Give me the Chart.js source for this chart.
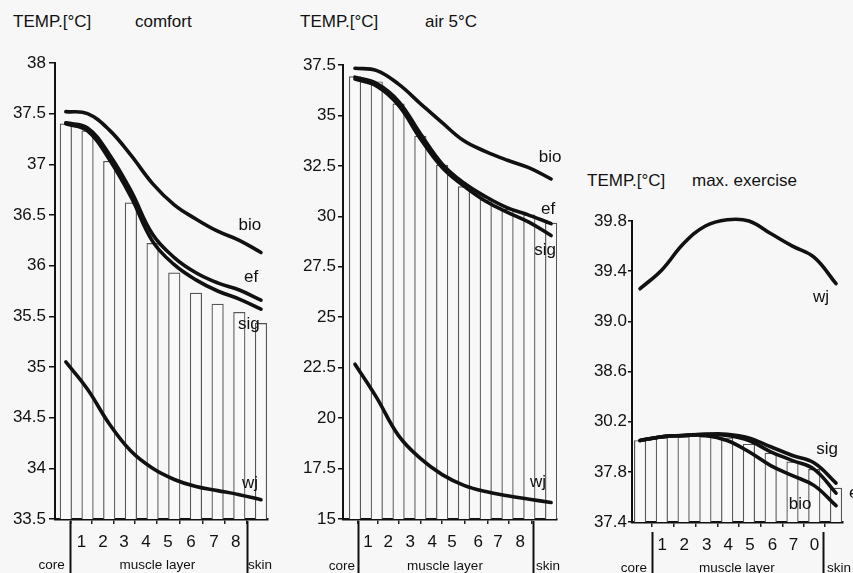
<!DOCTYPE html>
<html><head><meta charset="utf-8">
<script src="https://cdn.jsdelivr.net/npm/chart.js@4/dist/chart.umd.min.js"></script>
<style>
html,body{margin:0;padding:0;background:#f7f7f7;width:853px;height:573px;overflow:hidden;font-family:'Liberation Sans',Arial,sans-serif;color:#111}
canvas{position:absolute}
.t{position:absolute;font-size:17px;line-height:20px;white-space:nowrap;color:#111}
</style></head><body>
<div class="t" style="left:13px;top:12px">TEMP.[°C]</div>
<div class="t" style="left:135px;top:12px">comfort</div>
<div class="t" style="left:300px;top:12px">TEMP.[°C]</div>
<div class="t" style="left:425px;top:12px">air 5°C</div>
<div class="t" style="left:587px;top:171px">TEMP.[°C]</div>
<div class="t" style="left:692px;top:171px">max. exercise</div>
<canvas id="c1" width="290" height="533" style="left:0;top:40px"></canvas>
<canvas id="c2" width="285" height="533" style="left:290px;top:40px"></canvas>
<canvas id="c3" width="278" height="413" style="left:575px;top:160px"></canvas>
<script>
// compartments: core, muscle layers 1-8, skin
const compartments = ['core','m1','m2','m3','m4','m5','m6','m7','m8','skin'];

// comfort
const comfortBars = [37.40, 37.33, 37.03, 36.62, 36.22, 35.93, 35.73, 35.62, 35.54, 35.43];
const comfortBio  = [37.52, 37.50, 37.34, 37.09, 36.81, 36.60, 36.46, 36.34, 36.25, 36.13];
const comfortEf   = [37.41, 37.36, 37.10, 36.74, 36.31, 36.08, 35.93, 35.83, 35.76, 35.66];
const comfortSig  = [37.40, 37.33, 37.05, 36.68, 36.24, 36.01, 35.86, 35.75, 35.67, 35.57];
const comfortWj   = [35.05, 34.78, 34.44, 34.17, 34.00, 33.89, 33.82, 33.78, 33.74, 33.69];

// air 5°C
const air5Bars = [36.92, 36.67, 35.57, 33.98, 32.54, 31.47, 30.81, 30.35, 30.07, 29.66];
const air5Bio  = [37.34, 37.22, 36.55, 35.59, 34.64, 33.74, 33.21, 32.78, 32.40, 31.85];
const air5Ef   = [36.90, 36.58, 35.70, 34.10, 32.60, 31.65, 30.97, 30.42, 30.05, 29.64];
const air5Sig  = [36.80, 36.45, 35.50, 33.85, 32.42, 31.50, 30.75, 30.20, 29.70, 29.05];
const air5Wj   = [22.67, 21.00, 19.13, 18.00, 17.20, 16.67, 16.36, 16.15, 15.98, 15.82];

// max. exercise
const exBars = [38.05, 38.07, 38.08, 38.08, 38.07, 38.02, 37.95, 37.88, 37.82, 37.67];
const exWj   = [39.26, 39.41, 39.62, 39.76, 39.81, 39.80, 39.70, 39.60, 39.51, 39.30];
const exSig  = [38.05, 38.08, 38.09, 38.10, 38.10, 38.07, 38.00, 37.93, 37.87, 37.71];
const exEf   = [38.05, 38.08, 38.09, 38.10, 38.09, 38.05, 37.96, 37.89, 37.82, 37.63];
const exBio  = [38.05, 38.08, 38.09, 38.09, 38.05, 37.96, 37.85, 37.77, 37.69, 37.53];

// tick labels
const comfortYTicks = [33.5, 34, 34.5, 35, 35.5, 36, 36.5, 37, 37.5, 38];
const comfortYLabels = ['33.5','34','34.5','35','35.5','36','36.5','37','37.5','38'];
const air5YTicks = [15, 17.5, 20, 22.5, 25, 27.5, 30, 32.5, 35, 37.5];
const air5YLabels = ['15','17.5','20','22.5','25','27.5','30','32.5','35','37.5'];
const exYTicks = [37.4, 37.8, 38.2, 38.6, 39.0, 39.4, 39.8];
const exYLabels = ['37.4','37.8','30.2','38.6','39.0','39.4','39.8'];
const muscleLabels = ['1','2','3','4','5','6','7','8'];
const exMuscleLabels = ['1','2','3','4','5','6','7','0'];
const regionLabels = ['core','muscle layer','skin'];

const FONT = "'Liberation Sans', Arial, sans-serif";
const xs = compartments.map((c,i)=>i);
const pts = arr => arr.map((v,i)=>({x: xs[i], y: v}));

function makePanel(id, g) {
  const lineDs = (arr) => ({type:'line', data: pts(arr), borderColor:'#111', borderWidth:3.6,
    pointRadius:0, tension:0.4, fill:false, order:1, clip:8, borderCapStyle:'round', borderJoinStyle:'round'});
  const datasets = [{type:'bar', data: pts(g.bars), backgroundColor:'#f9f9f9', borderColor:'#555',
    borderWidth:1.2, barThickness:11.5, order:2}].concat(g.lines.map(lineDs));
  const annot = {
    id:'annot_'+id,
    afterDraw(chart){
      const c = chart.ctx, X = chart.scales.x, Y = chart.scales.y, ca = chart.chartArea;
      c.save();
      c.fillStyle = '#111';
      c.font = '17px ' + FONT;
      c.textBaseline = 'middle';
      g.lineLabels.forEach(l => {
        c.textAlign = l.align || 'center';
        c.fillText(l.text, X.getPixelForValue(l.x), Y.getPixelForValue(l.y));
      });
      // dividers
      c.strokeStyle = '#111'; c.lineWidth = 2;
      g.dividers.forEach(d => {
        const px = Math.round(X.getPixelForValue(d)) + 0.5;
        c.beginPath(); c.moveTo(px, ca.bottom + g.divStart); c.lineTo(px, chart.height); c.stroke();
      });
      c.font = '13.5px ' + FONT;
      g.region.forEach((r,i) => {
        c.textAlign = r.align;
        c.fillText(regionLabels[i], X.getPixelForValue(r.x), ca.bottom + g.regionDy);
      });
      c.restore();
    }
  };
  return new Chart(document.getElementById(id), {
    data: {datasets},
    options: {
      responsive:false, animation:false, devicePixelRatio:1,
      layout:{padding:{top:g.padTop, right:g.padRight, left:0, bottom:0}},
      plugins:{legend:{display:false}, tooltip:{enabled:false}},
      scales:{
        x:{type:'linear', min:g.xMin, max:g.xMax, offset:false,
          afterFit: s => { s.height = g.xh; },
          afterBuildTicks: s => { s.ticks = g.xTickPos.map(v=>({value:v})); },
          grid:{drawOnChartArea:false, drawTicks:true, tickLength:5, color:'#222', lineWidth:1.5},
          border:{display:true, color:'#111', width:2.5},
          ticks:{autoSkip:false, maxRotation:0, padding:8, color:'#111', font:{family:FONT, size:17},
            callback:(v,i)=>g.xLabels[i]}
        },
        y:{type:'linear', min:g.yMin, max:g.yMax,
          afterFit: s => { s.width = g.yw; },
          afterBuildTicks: s => { s.ticks = g.yTicks.map(v=>({value:v})); },
          grid:{drawOnChartArea:false, drawTicks:true, tickLength:g.tickLen, color:'#111', lineWidth:1.5},
          border:{display:true, color:'#111', width:2},
          ticks:{autoSkip:false, padding:g.tickPad, color:'#111', font:{family:FONT, size:17},
            callback:(v,i)=>g.yLabels[i]}
        }
      }
    },
    plugins:[annot]
  });
}

makePanel('c1', {
  bars: comfortBars, lines:[comfortBio, comfortEf, comfortSig, comfortWj],
  yMin:33.5, yMax:38, yTicks:comfortYTicks, yLabels:comfortYLabels,
  xMin:-0.5, xMax:9.3, xLabels:muscleLabels, xTickPos:[0.72,1.71,2.68,3.69,4.71,5.77,6.83,7.84],
  yw:55, padTop:23, padRight:22.5, xh:54, tickLen:6, tickPad:3,
  lineLabels:[{text:'bio',x:8.49,y:36.40},{text:'ef',x:8.54,y:35.89},{text:'sig',x:8.44,y:35.42},{text:'wj',x:8.49,y:33.85}],
  dividers:[0.18, 8.34], divStart:2,
  region:[{x:-0.05,align:'right'},{x:4.22,align:'center'},{x:8.4,align:'left'}], regionDy:46
});
makePanel('c2', {
  bars: air5Bars, lines:[air5Bio, air5Ef, air5Sig, air5Wj],
  yMin:15, yMax:37.5, yTicks:air5YTicks, yLabels:air5YLabels,
  xMin:-0.55, xMax:9.27, xLabels:muscleLabels, xTickPos:[0.6,1.52,2.53,3.54,4.45,5.65,6.56,7.58],
  yw:53, padTop:25, padRight:18, xh:54, tickLen:5, tickPad:2,
  lineLabels:[{text:'bio',x:8.95,y:32.94},{text:'ef',x:8.86,y:30.36},{text:'sig',x:8.72,y:28.33},{text:'wj',x:8.40,y:16.84}],
  dividers:[0.15, 8.19], divStart:2,
  region:[{x:0,align:'right'},{x:4.13,align:'center'},{x:8.31,align:'left'}], regionDy:47
});
makePanel('c3', {
  bars: exBars, lines:[exWj, exSig, exEf, exBio],
  yMin:37.4, yMax:39.8, yTicks:exYTicks, yLabels:exYLabels,
  xMin:-0.37, xMax:9.32, xLabels:exMuscleLabels, xTickPos:[1.02,2.03,3.06,4.05,5.05,6.08,7.05,8.01],
  yw:57, padTop:61, padRight:10, xh:51, tickLen:4, tickPad:1,
  lineLabels:[{text:'wj',x:8.31,y:39.19},{text:'sig',x:8.59,y:37.98},{text:'bio',x:7.35,y:37.54},{text:'ef',x:9.6,y:37.63,align:'left'}],
  dividers:[0.56, 8.42], divStart:10,
  region:[{x:0.32,align:'right'},{x:4.45,align:'center'},{x:8.59,align:'left'}], regionDy:46
});
</script>
</body></html>
